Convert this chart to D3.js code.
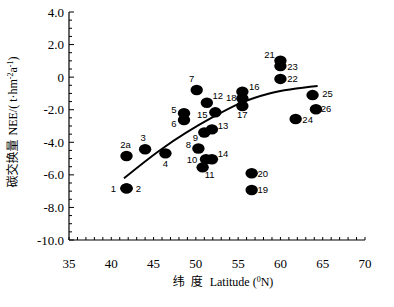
<!DOCTYPE html>
<html>
<head>
<meta charset="utf-8">
<script src="https://cdn.jsdelivr.net/npm/d3@7"></script>
<style>
  body { margin: 0; background: #fff; }
  svg { display: block; }
  text { white-space: pre; }
</style>
</head>
<body>
<div id="chart"></div>
<script>
// site ids, latitude (°N) and NEE (t·hm-2·a-1)
const siteIds = ['1', '2', '2a', '3', '4', '5', '6', '7', '8', '9', '10', '11', '12', '13',
  '14', '15', '16', '17', '18', '19', '20', '21', '22', '23', '24', '25', '26'];
const latitudes = [41.8, 41.8, 41.8, 44.0, 46.4, 48.6, 48.6, 50.1, 50.3, 51.0, 51.2, 50.8, 51.3, 51.9,
  51.9, 52.3, 55.5, 55.5, 55.5, 56.6, 56.6, 60.0, 60.0, 60.0, 61.8, 63.8, 64.2];
const neeValues = [-6.83, -6.83, -4.84, -4.43, -4.68, -2.22, -2.63, -0.79, -4.38, -3.40, -5.04, -5.54, -1.57, -3.21,
  -5.04, -2.16, -0.89, -1.77, -1.30, -6.93, -5.90, 1.01, -0.11, 0.68, -2.57, -1.10, -1.97];

// trend curve, sampled from the figure
const trendLat = [41.5, 45.8, 52.1, 55.2, 58.8, 64.4];
const trendNee = [-6.21, -4.47, -2.43, -1.61, -0.99, -0.54];

const xTicks = [35, 40, 45, 50, 55, 60, 65, 70];
const yTicks = [4, 2, 0, -2, -4, -6, -8, -10];
const yTickLabels = ['4.0', '2.0', '0', '-2.0', '-4.0', '-6.0', '-8.0', '-10.0'];

const W = 394, H = 307;
const svg = d3.select('#chart').append('svg')
  .attr('width', W).attr('height', H);

const x = d3.scaleLinear().domain([35, 70]).range([69, 365]);
const y = d3.scaleLinear().domain([-10, 4]).range([240, 12]);

const serif = '"Liberation Serif", "Times New Roman", serif';
const sans = '"Liberation Sans", Arial, sans-serif';
const cjk = '"Noto Sans CJK SC", sans-serif';

// y axis: ticks inside (to the right)
const yAxis = svg.append('g').attr('transform', `translate(${x(35)},0)`);
yAxis.append('line')
  .attr('x1', 0).attr('x2', 0).attr('y1', y(4)).attr('y2', y(-10))
  .attr('stroke', '#000').attr('stroke-width', 1.2);
yAxis.selectAll('line.minor')
  .data(d3.range(-10, 4.01, 0.5))
  .join('line').attr('class', 'minor')
  .attr('x1', 0).attr('x2', d => (Math.abs(d % 2) < 1e-6 ? 5 : 3))
  .attr('y1', d => y(d)).attr('y2', d => y(d))
  .attr('stroke', '#000').attr('stroke-width', 1);
yAxis.selectAll('text')
  .data(yTicks)
  .join('text')
  .attr('x', -5).attr('y', d => y(d))
  .attr('dy', '0.35em')
  .attr('text-anchor', 'end')
  .style('font-family', serif).style('font-size', '13px')
  .text((d, i) => yTickLabels[i]);

// x axis: ticks inside (upward)
const xAxis = svg.append('g').attr('transform', `translate(0,${y(-10)})`);
xAxis.append('line')
  .attr('x1', x(35)).attr('x2', x(70)).attr('y1', 0).attr('y2', 0)
  .attr('stroke', '#000').attr('stroke-width', 1.2);
xAxis.selectAll('line.minor')
  .data(d3.range(35, 70.01, 1))
  .join('line').attr('class', 'minor')
  .attr('x1', d => x(d)).attr('x2', d => x(d))
  .attr('y1', 0).attr('y2', -3)
  .attr('stroke', '#000').attr('stroke-width', 1);
xAxis.selectAll('text')
  .data(xTicks)
  .join('text')
  .attr('x', d => x(d)).attr('y', 28)
  .attr('text-anchor', 'middle')
  .style('font-family', serif).style('font-size', '13px')
  .text(d => d);

// axis titles
const xt = svg.append('text')
  .attr('x', 223).attr('y', 286)
  .attr('text-anchor', 'middle')
  .style('font-family', serif).style('font-size', '12px');
xt.append('tspan').style('font-family', cjk).text('纬');
xt.append('tspan').style('font-family', cjk).attr('dx', 6).text('度');
xt.append('tspan').attr('dx', 7).text('Latitude (');
xt.append('tspan').attr('dy', -4).style('font-size', '8px').text('0');
xt.append('tspan').attr('dy', 4).text('N)');

const yt = svg.append('text')
  .attr('transform', 'translate(17,122) rotate(-90)')
  .attr('text-anchor', 'middle')
  .style('font-family', serif).style('font-size', '12px');
yt.append('tspan').style('font-family', cjk).text('碳交换量');
yt.append('tspan').attr('dx', 4).text('NEE/( t·hm');
yt.append('tspan').attr('dy', -4).style('font-size', '8px').text('-2');
yt.append('tspan').attr('dy', 4).text('a');
yt.append('tspan').attr('dy', -4).style('font-size', '8px').text('-1');
yt.append('tspan').attr('dy', 4).text(')');

// trend curve
const trend = trendLat.map((d, i) => [d, trendNee[i]]);
svg.append('path')
  .datum(trend)
  .attr('d', d3.line().x(d => x(d[0])).y(d => y(d[1])).curve(d3.curveMonotoneX))
  .attr('fill', 'none').attr('stroke', '#000').attr('stroke-width', 2);

// points
const pts = siteIds.map((id, i) => ({ id, lat: latitudes[i], nee: neeValues[i] }));
svg.selectAll('ellipse')
  .data(pts)
  .join('ellipse')
  .attr('cx', d => x(d.lat)).attr('cy', d => y(d.nee))
  .attr('rx', 6.2).attr('ry', 5.2)
  .attr('fill', '#000');

// label placement around each dot
const labelPos = {
  '1': [-13, 0], '2': [12, 0], '2a': [-1, -11], '3': [-2, -12], '4': [0, 10],
  '5': [-10, -4], '6': [-10, 4], '7': [-5, -11], '8': [-10, -4], '9': [-9, 5],
  '10': [-14, 0], '11': [7, 7], '12': [11, -7], '13': [11, -4], '14': [11, -6],
  '15': [-13, 2], '16': [12, -5], '17': [0, 9], '18': [-11, -1], '19': [11, 0],
  '20': [11, 0], '21': [-11, -6], '22': [12, 0], '23': [12, 1], '24': [12, 1],
  '25': [15, -1], '26': [10, -1]
};
svg.selectAll('text.lbl')
  .data(pts)
  .join('text').attr('class', 'lbl')
  .attr('x', d => x(d.lat) + labelPos[d.id][0])
  .attr('y', d => y(d.nee) + labelPos[d.id][1])
  .attr('dy', '0.35em')
  .attr('text-anchor', 'middle')
  .style('font-family', sans).style('font-size', '9.5px')
  .text(d => d.id);
</script>
</body>
</html>
